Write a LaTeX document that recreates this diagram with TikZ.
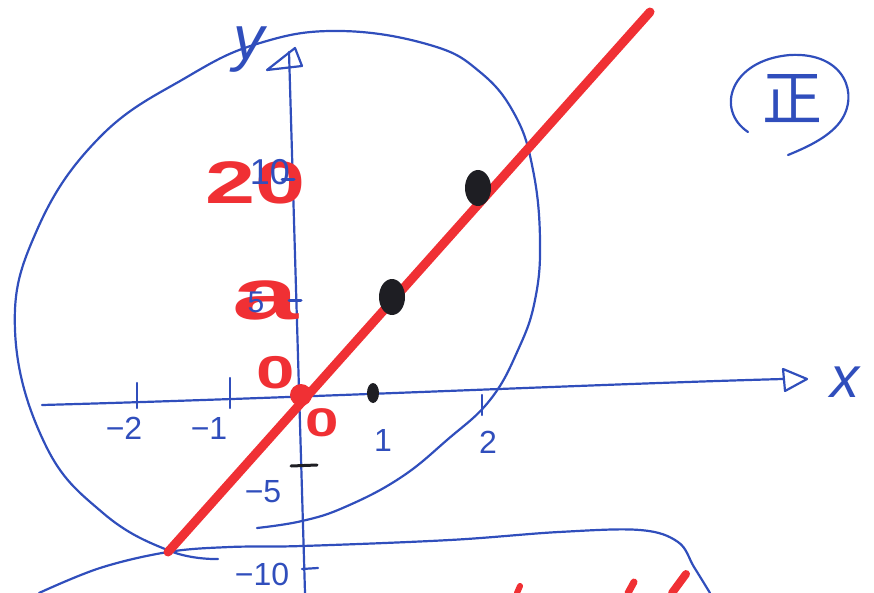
\documentclass[tikz,border=0pt]{standalone}
\usepackage{fontspec}
\setmainfont{Liberation Sans}
\newfontfamily\cjk{Noto Sans CJK SC}
\definecolor{penblue}{RGB}{48,78,188}
\definecolor{markred}{RGB}{240,48,52}
\definecolor{inkdark}{RGB}{30,30,35}

\begin{document}
\begin{tikzpicture}[x=1pt, y=-1pt, line cap=round, line join=round,
	pen/.style={penblue, line width=2.2pt},
	marker/.style={markred, line width=9pt},
	lbl/.style={penblue, inner sep=0pt, font=\fontsize{32}{32}\selectfont},
	redlbl/.style={markred, inner sep=0pt, font=\fontsize{60}{60}\selectfont\bfseries, xscale=1.5}]
	\useasboundingbox (0, 0) rectangle (874, 593);
	% circle
	\draw [pen] plot [smooth, tension=0.7] coordinates {(218, 559) (170, 551) (103, 513) (45, 444) (15, 330) (37, 230) (100, 137) (187, 77) (260, 43) (340, 31) (430, 45) (480, 72) (515, 115) (533, 170) (540, 240) (535, 300) (518, 350) (490, 400) (447, 440) (400, 478) (345, 507) (302, 521) (257, 528)};
	\draw [pen] plot [smooth, tension=0.6] coordinates {(39, 593) (100, 568) (168, 552) (230, 547) (302, 546) (450, 540) (559, 532) (640, 530) (678, 542) (694, 567) (710, 593)};
	% axes
	\draw [pen] (42, 405) .. controls (300, 398) and (600, 384) .. (783, 379);
	\draw [pen] (783, 369) -- (807, 379) -- (785, 391) -- cycle;
	\node [penblue, font=\fontsize{58}{58}\selectfont\itshape] (xl) at (845, 382) {x};
	\draw [pen] (305, 593) -- (289, 52);
	\draw [pen] (267, 70) -- (295, 48) -- (302, 66) -- cycle;
	\node [penblue, font=\fontsize{62}{62}\selectfont\itshape] (yl) at (249, 50) {y};
	% ticks
	\draw [pen] (137, 383) -- (137, 408);
	\draw [pen] (230, 378) -- (230, 408);
	\draw [pen] (482, 395) -- (482, 415);
	\draw [inkdark, line width=3pt] (291, 466) -- (317, 465);
	\draw [pen] (302, 569) -- (318, 568);
	\fill [inkdark] (373, 393) ellipse (6 and 10);
	\node [lbl] (m2) at (124, 428) {−2};
	\node [lbl] (m1) at (209, 428) {−1};
	\node [lbl] (p1) at (383, 440) {1};
	\node [lbl] (p2) at (488, 442) {2};
	\node [lbl] (m5) at (263, 492) {−5};
	\node [lbl] (m10) at (262, 574) {−10};
	% red line
	\draw [marker] (168, 552) -- (650, 12);
	\fill [markred] (301, 395) circle (11);
	\fill [inkdark] (392, 297) ellipse (13 and 18);
	\fill [inkdark] (478, 188) ellipse (13 and 18);
	% y labels
	\node [redlbl] (r20) at (256, 183) {20};
	\node [redlbl, font=\fontsize{72}{72}\selectfont\bfseries, xscale=1.1] (ra) at (266, 300) {a};
	\node [lbl, font=\fontsize{36}{36}\selectfont] (b10) at (270, 172) {10};
	\node [lbl, font=\fontsize{30}{30}\selectfont] (b5) at (256, 302) {5};
	\draw [pen, line width=3pt] (282, 180) -- (294, 180);
	\draw [pen, line width=3pt] (289, 300) -- (301, 300);
	\node [redlbl, font=\fontsize{46}{46}\selectfont\bfseries, xscale=1] (r0a) at (276, 373) {0};
	\node [redlbl, font=\fontsize{40}{40}\selectfont\bfseries, xscale=1] (r0b) at (322, 423) {0};
	% red ticks at bottom
	\draw [markred, line width=6pt] (517, 593) -- (520, 586);
	\draw [markred, line width=7pt] (628, 593) -- (634, 582);
	\draw [markred, line width=8pt] (672, 593) -- (686, 574);
	% circled mark
	\node [penblue, font=\fontsize{60}{60}\cjk] (zheng) at (792, 99) {正};
	\draw [pen] (748, 132) .. controls (715, 110) and (730, 60) .. (790, 55) .. controls (845, 52) and (860, 95) .. (840, 122) .. controls (828, 138) and (805, 148) .. (788, 155);
\end{tikzpicture}
\end{document}
